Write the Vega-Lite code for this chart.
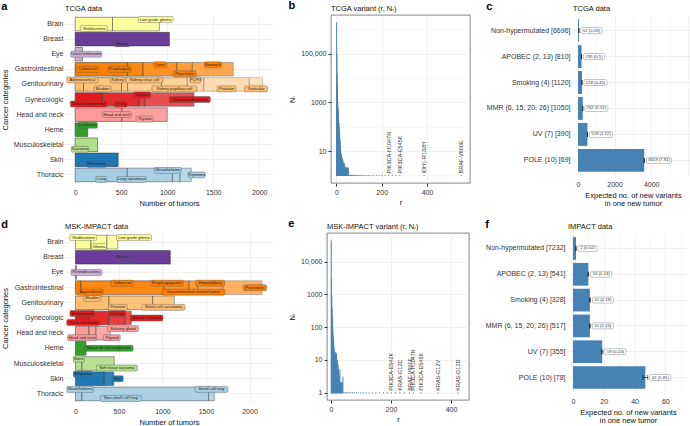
{
"$schema": "https://vega.github.io/schema/vega-lite/v6.json",
"background": "white",
"padding": {"left": 1, "top": 0, "right": 0, "bottom": 0},
"config": {
  "font": "Liberation Sans",
  "view": {"stroke": null},
  "axis": {"labelFont": "Liberation Sans", "titleFont": "Liberation Sans", "labelFontSize": 7, "titleFontSize": 7.5, "titleFontWeight": "normal", "labelColor": "#333333", "titleColor": "#111111", "gridColor": "#ebebeb", "gridWidth": 0.7, "domain": false, "ticks": false, "labelPadding": 3, "titlePadding": 4},
  "title": {"font": "Liberation Sans", "fontSize": 7.5, "fontWeight": "normal", "color": "#111111", "anchor": "start", "frame": "group", "offset": 3}
},
"datasets": {
  "tcgaSeg": [
    {"cat":"Brain","sub":"Glioblastoma","i":0,"n":406},
    {"cat":"Brain","sub":"Low grade glioma","i":1,"n":510},
    {"cat":"Breast","sub":"Breast","i":0,"n":1025},
    {"cat":"Eye","sub":"Uveal melanoma","i":0,"n":80},
    {"cat":"Gastrointestinal","sub":"Colorectal","i":0,"n":570},
    {"cat":"Gastrointestinal","sub":"Esophageal","i":1,"n":168},
    {"cat":"Gastrointestinal","sub":"Liver","i":2,"n":368},
    {"cat":"Gastrointestinal","sub":"Pancreatic","i":3,"n":167},
    {"cat":"Gastrointestinal","sub":"Stomach","i":4,"n":445},
    {"cat":"Genitourinary","sub":"Adrenocortical","i":0,"n":92},
    {"cat":"Genitourinary","sub":"Bladder","i":1,"n":412},
    {"cat":"Genitourinary","sub":"Kidney","i":2,"n":66},
    {"cat":"Genitourinary","sub":"Kidney clear cell","i":3,"n":368},
    {"cat":"Genitourinary","sub":"Kidney papillary cell","i":4,"n":280},
    {"cat":"Genitourinary","sub":"PCPG","i":5,"n":180},
    {"cat":"Genitourinary","sub":"Prostate","i":6,"n":495},
    {"cat":"Genitourinary","sub":"Testicular","i":7,"n":145},
    {"cat":"Gynecologic","sub":"Cervical squamous","i":0,"n":297},
    {"cat":"Gynecologic","sub":"Ovary","i":1,"n":398},
    {"cat":"Gynecologic","sub":"Uterine","i":2,"n":65},
    {"cat":"Gynecologic","sub":"Uterine endometrial","i":3,"n":532},
    {"cat":"Head and neck","sub":"Head and neck","i":0,"n":508},
    {"cat":"Head and neck","sub":"Thyroid","i":1,"n":492},
    {"cat":"Heme","sub":"Leukemia","i":0,"n":137},
    {"cat":"Musculoskeletal","sub":"Sarcoma","i":0,"n":243},
    {"cat":"Skin","sub":"Melanoma","i":0,"n":468},
    {"cat":"Thoracic","sub":"Lung","i":0,"n":567},
    {"cat":"Thoracic","sub":"Lung squamous","i":1,"n":490},
    {"cat":"Thoracic","sub":"Mesothelioma","i":2,"n":82},
    {"cat":"Thoracic","sub":"Thymoma","i":3,"n":123}
  ],
  "mskSeg": [
    {"cat":"Brain","sub":"Glioblastoma","i":0,"n":178},
    {"cat":"Brain","sub":"Glioma","i":1,"n":184},
    {"cat":"Brain","sub":"Low grade glioma","i":2,"n":123},
    {"cat":"Breast","sub":"Breast","i":0,"n":1090},
    {"cat":"Eye","sub":"Retinoblastoma","i":0,"n":12},
    {"cat":"Gastrointestinal","sub":"Appendiceal","i":0,"n":63},
    {"cat":"Gastrointestinal","sub":"Colorectal","i":1,"n":954},
    {"cat":"Gastrointestinal","sub":"Esophagogastric","i":2,"n":288},
    {"cat":"Gastrointestinal","sub":"Gastrointestinal stromal tumor","i":3,"n":100},
    {"cat":"Gastrointestinal","sub":"Hepatobiliary","i":4,"n":287},
    {"cat":"Gastrointestinal","sub":"Pancreatic","i":5,"n":452},
    {"cat":"Genitourinary","sub":"Bladder","i":0,"n":386},
    {"cat":"Genitourinary","sub":"Prostate","i":1,"n":501},
    {"cat":"Genitourinary","sub":"Renal cell carcinoma","i":2,"n":249},
    {"cat":"Gynecologic","sub":"Endometrial","i":0,"n":160},
    {"cat":"Gynecologic","sub":"Germ cell tumor","i":1,"n":220},
    {"cat":"Gynecologic","sub":"Ovarian","i":2,"n":190},
    {"cat":"Gynecologic","sub":"Uterine sarcoma","i":3,"n":72},
    {"cat":"Head and neck","sub":"Head and neck","i":0,"n":155},
    {"cat":"Head and neck","sub":"Salivary gland","i":1,"n":80},
    {"cat":"Head and neck","sub":"Thyroid","i":2,"n":165},
    {"cat":"Heme","sub":"Mature B-cell neoplasms","i":0,"n":121},
    {"cat":"Musculoskeletal","sub":"Bone","i":0,"n":75},
    {"cat":"Musculoskeletal","sub":"Soft tissue sarcoma","i":1,"n":371},
    {"cat":"Skin","sub":"Melanoma","i":0,"n":331},
    {"cat":"Skin","sub":"Skin","i":1,"n":109},
    {"cat":"Thoracic","sub":"Mesothelioma","i":0,"n":75},
    {"cat":"Thoracic","sub":"Non-small cell lung","i":1,"n":1455},
    {"cat":"Thoracic","sub":"Small cell lung","i":2,"n":65}
  ],
  "tcgaHist": [
    {"r":1,"n":1900000},{"r":2,"n":90000},{"r":3,"n":15000},{"r":4,"n":4700},{"r":5,"n":2000},
    {"r":6,"n":1000},{"r":7,"n":620},{"r":8,"n":400},{"r":9,"n":270},{"r":10,"n":190},
    {"r":11,"n":135},{"r":12,"n":95},{"r":13,"n":66},{"r":14,"n":45},{"r":15,"n":32},
    {"r":16,"n":23},{"r":17,"n":16},{"r":18,"n":11},{"r":19,"n":10},{"r":20,"n":8},
    {"r":21,"n":7},{"r":22,"n":6},{"r":23,"n":6},{"r":24,"n":5},{"r":25,"n":5},
    {"r":26,"n":4},{"r":27,"n":4},{"r":28,"n":3},{"r":29,"n":4},{"r":30,"n":3},
    {"r":31,"n":3},{"r":32,"n":2},{"r":33,"n":3},{"r":34,"n":2},{"r":35,"n":2},
    {"r":36,"n":3},{"r":37,"n":2},{"r":38,"n":2},{"r":39,"n":2},{"r":40,"n":2},
    {"r":41,"n":2},{"r":43,"n":2},{"r":44,"n":2},{"r":46,"n":2},{"r":48,"n":2},
    {"r":50,"n":2},{"r":53,"n":2},
    {"r":56,"n":1},{"r":58,"n":1},{"r":61,"n":1},{"r":64,"n":1},{"r":67,"n":1},{"r":70,"n":1},
    {"r":74,"n":1},{"r":78,"n":1},{"r":82,"n":1},{"r":87,"n":1},{"r":92,"n":1},{"r":98,"n":1},
    {"r":104,"n":1},{"r":111,"n":1},{"r":118,"n":1},{"r":126,"n":1},{"r":134,"n":1},{"r":143,"n":1},
    {"r":153,"n":1},{"r":164,"n":1},{"r":176,"n":1},{"r":188,"n":1},{"r":201,"n":1},{"r":215,"n":1},
    {"r":231,"n":1},{"r":247,"n":1},{"r":262,"n":1},{"r":280,"n":1},{"r":387,"n":1},{"r":551,"n":1}
  ],
  "mskHist": [
    {"r":1,"n":43000},{"r":2,"n":2900},{"r":3,"n":900},{"r":4,"n":380},{"r":5,"n":190},
    {"r":6,"n":110},{"r":7,"n":70},{"r":8,"n":50},{"r":9,"n":36},{"r":10,"n":28},
    {"r":11,"n":21},{"r":12,"n":18},{"r":13,"n":16},{"r":14,"n":17},{"r":15,"n":15},
    {"r":16,"n":14},{"r":17,"n":16},{"r":18,"n":11},{"r":19,"n":15},{"r":20,"n":9},
    {"r":21,"n":10},{"r":22,"n":8},{"r":23,"n":6},{"r":24,"n":7},{"r":25,"n":5},
    {"r":26,"n":4},{"r":27,"n":3},{"r":28,"n":3},{"r":29,"n":2},{"r":30,"n":5},
    {"r":31,"n":2},{"r":32,"n":2},{"r":33,"n":2},{"r":34,"n":1},{"r":35,"n":2},
    {"r":36,"n":2},{"r":37,"n":1},{"r":38,"n":2},{"r":40,"n":3},
    {"r":43,"n":1},{"r":47,"n":1},{"r":51,"n":1},{"r":56,"n":1},{"r":61,"n":1},{"r":66,"n":1},
    {"r":72,"n":1},{"r":78,"n":1},{"r":85,"n":1},{"r":92,"n":1},{"r":100,"n":1},{"r":108,"n":1},
    {"r":117,"n":1},{"r":127,"n":1},{"r":138,"n":1},{"r":150,"n":1},{"r":162,"n":1},{"r":175,"n":1},
    {"r":188,"n":1},{"r":200,"n":1},{"r":215,"n":1},{"r":230,"n":1},{"r":245,"n":1},{"r":262,"n":1},
    {"r":275,"n":1},{"r":300,"n":1},{"r":357,"n":1},{"r":423,"n":1}
  ],
  "tcgaVar": [
    {"r":231,"v":"PIK3CA-H1047R"},{"r":280,"v":"PIK3CA-E545K"},{"r":387,"v":"IDH1-R132H"},{"r":551,"v":"BRAF-V600E"}
  ],
  "mskVar": [
    {"r":200,"v":"PIK3CA-E542K"},{"r":230,"v":"KRAS-G12C"},{"r":262,"v":"BRAF-V600E"},{"r":275,"v":"PIK3CA-H1047R"},
    {"r":300,"v":"PIK3CA-E545K"},{"r":357,"v":"KRAS-G12V"},{"r":423,"v":"KRAS-G12D"}
  ],
  "tcgaSig": [
    {"sig":"Non-hypermutated [6696]","val":52,"lo":51.8,"hi":52.2,"lab":"52 (0.09)"},
    {"sig":"APOBEC (2, 13) [810]","val":195,"lo":194,"hi":196,"lab":"195 (0.5)"},
    {"sig":"Smoking (4) [1120]","val":218,"lo":217.1,"hi":218.9,"lab":"218 (0.45)"},
    {"sig":"MMR (6, 15, 20, 26) [1050]","val":262,"lo":261,"hi":263,"lab":"262 (0.52)"},
    {"sig":"UV (7) [390]","val":519,"lo":516.6,"hi":521.4,"lab":"519 (1.22)"},
    {"sig":"POLE (10) [69]","val":3619,"lo":3603.7,"hi":3634.3,"lab":"3619 (7.81)"}
  ],
  "mskSig": [
    {"sig":"Non-hypermutated [7232]","val":2,"lo":1.96,"hi":2.04,"lab":"2 (0.02)"},
    {"sig":"APOBEC (2, 13) [541]","val":10,"lo":9.73,"hi":10.27,"lab":"10 (0.14)"},
    {"sig":"Smoking (4) [328]","val":11,"lo":10.63,"hi":11.37,"lab":"11 (0.19)"},
    {"sig":"MMR (6, 15, 20, 26) [517]","val":11,"lo":10.71,"hi":11.29,"lab":"11 (0.15)"},
    {"sig":"UV (7) [355]","val":19,"lo":18.53,"hi":19.47,"lab":"19 (0.24)"},
    {"sig":"POLE (10) [78]","val":47,"lo":45.41,"hi":48.59,"lab":"47 (0.81)"}
  ]
},
"spacing": 11,
"vconcat": [
{"spacing": 15, "hconcat": [
 {"title": {"text": "a", "fontSize": 11, "fontWeight": "bold", "frame": "bounds", "anchor": "start", "offset": -7, "color": "#000000"},
  "vconcat": [{
   "width": 208, "height": 169,
   "title": {"text": "TCGA data"},
   "data": {"name": "tcgaSeg"},
   "transform": [
     {"stack": "n", "groupby": ["cat"], "sort": [{"field": "i", "order": "ascending"}], "as": ["x0", "x1"]},
     {"calculate": "(datum.x0 + datum.x1) / 2 + ([214, 80, -150, -170, -75, 220, 200, 70, -70, -200, -90, 120][indexof(['Low grade glioma','Uveal melanoma','Colorectal','Esophageal','Kidney','Uterine endometrial','Head and neck','Leukemia','Sarcoma','Lung squamous','Mesothelioma','Thymoma'], datum.sub)] || 0)", "as": "mid"},
     {"calculate": "(length(datum.sub) * 2.0 + 3) / 2 / 0.092", "as": "hw"},
     {"calculate": "min(max(datum.mid, -110 + datum.hw + 20), 2150 - datum.hw)", "as": "cx"},
     {"calculate": "datum.cx - datum.hw", "as": "bx1"},
     {"calculate": "datum.cx + datum.hw", "as": "bx2"},
     {"calculate": "indexof(['Low grade glioma','Liver','Stomach','Adrenocortical','Kidney','Kidney clear cell','PCPG','Uterine','Mesothelioma','Leukemia'], datum.sub) >= 0 ? 'a' : (indexof(['Glioblastoma','Breast','Pancreatic','Bladder','Kidney papillary cell','Prostate','Testicular','Cervical squamous','Ovary','Thyroid','Sarcoma','Melanoma','Lung','Lung squamous'], datum.sub) >= 0 ? 'b' : 'm')", "as": "lane"}
   ],
   "encoding": {"y": {"field": "cat", "type": "nominal", "sort": ["Brain","Breast","Eye","Gastrointestinal","Genitourinary","Gynecologic","Head and neck","Heme","Musculoskeletal","Skin","Thoracic"], "scale": {"paddingInner": 0.1, "paddingOuter": 0.15}, "axis": {"title": "Cancer categories", "bandPosition": 0.5, "grid": true, "labelPadding": 2}}},
   "layer": [
     {"mark": {"type": "bar", "stroke": "#333333", "strokeWidth": 0.5},
      "encoding": {
        "x": {"field": "x0", "type": "quantitative", "scale": {"domain": [-110, 2150], "nice": false, "zero": false},
              "axis": {"title": "Number of tumors", "format": "d", "values": [0,250,500,750,1000,1250,1500,1750,2000], "labelExpr": "datum.value % 500 == 0 ? datum.label : ''", "gridWidth": {"condition": {"test": "datum.value % 500 != 0", "value": 0.35}, "value": 0.7}, "labelPadding": 4}},
        "x2": {"field": "x1"},
        "color": {"field": "cat", "type": "nominal", "legend": null, "scale": {"domain": ["Brain","Breast","Eye","Gastrointestinal","Genitourinary","Gynecologic","Head and neck","Heme","Musculoskeletal","Skin","Thoracic"], "range": ["#FFFF99","#6A3D9A","#CAB2D6","#FF7F00","#FDBF6F","#E31A1C","#FB9A99","#33A02C","#B2DF8A","#1F78B4","#A6CEE3"]}},
        "opacity": {"field": "i", "type": "quantitative", "legend": null, "scale": {"domain": [0, 7], "range": [1, 0.45]}}
      }},
     {"transform": [{"filter": "datum.lane == 'a'"}], "mark": {"type": "bar", "size": 6, "yOffset": -4.5, "stroke": "#555555", "strokeWidth": 0.4, "cornerRadius": 1.2},
      "encoding": {"x": {"field": "bx1", "type": "quantitative"}, "x2": {"field": "bx2"}, "color": {"field": "cat", "type": "nominal", "legend": null}}},
     {"transform": [{"filter": "datum.lane == 'a'"}], "mark": {"type": "text", "fontSize": 4, "yOffset": -4.5, "color": "#222222"},
      "encoding": {"x": {"field": "cx", "type": "quantitative"}, "text": {"field": "sub"}}},
     {"transform": [{"filter": "datum.lane == 'b'"}], "mark": {"type": "bar", "size": 6, "yOffset": 4.5, "stroke": "#555555", "strokeWidth": 0.4, "cornerRadius": 1.2},
      "encoding": {"x": {"field": "bx1", "type": "quantitative"}, "x2": {"field": "bx2"}, "color": {"field": "cat", "type": "nominal", "legend": null}}},
     {"transform": [{"filter": "datum.lane == 'b'"}], "mark": {"type": "text", "fontSize": 4, "yOffset": 4.5, "color": "#222222"},
      "encoding": {"x": {"field": "cx", "type": "quantitative"}, "text": {"field": "sub"}}},
     {"transform": [{"filter": "datum.lane == 'm'"}], "mark": {"type": "bar", "size": 6, "stroke": "#555555", "strokeWidth": 0.4, "cornerRadius": 1.2},
      "encoding": {"x": {"field": "bx1", "type": "quantitative"}, "x2": {"field": "bx2"}, "color": {"field": "cat", "type": "nominal", "legend": null}}},
     {"transform": [{"filter": "datum.lane == 'm'"}], "mark": {"type": "text", "fontSize": 4, "color": "#222222"},
      "encoding": {"x": {"field": "cx", "type": "quantitative"}, "text": {"field": "sub"}}}
   ]
  }]},
 {"title": {"text": "b", "fontSize": 11, "fontWeight": "bold", "frame": "bounds", "anchor": "start", "offset": -7, "color": "#000000"},
  "vconcat": [{
   "width": 139, "height": 168,
   "title": {"text": "TCGA variant (r, Nᵣ)"},
   "view": {"stroke": "#333333", "strokeWidth": 0.6},
   "layer": [
     {"data": {"name": "tcgaHist"},
      "mark": {"type": "rule", "color": "#4682b4", "strokeWidth": 1, "strokeCap": "square"},
      "encoding": {
        "x": {"field": "r", "type": "quantitative", "scale": {"domain": [-24, 590], "nice": false, "zero": false},
              "axis": {"title": "r", "values": [0,100,200,300,400,500], "labelExpr": "datum.value % 200 == 0 ? datum.label : ''", "ticks": true, "tickSize": 3, "tickColor": "#333333", "tickOpacity": {"condition": {"test": "datum.value % 200 != 0", "value": 0}, "value": 1}, "gridWidth": {"condition": {"test": "datum.value % 200 != 0", "value": 0.35}, "value": 0.7}, "labelPadding": 2, "titlePadding": 3}},
        "y": {"field": "n", "type": "quantitative", "scale": {"type": "log", "domain": [0.49, 3900000], "nice": false},
              "axis": {"title": "Nᵣ", "values": [1,10,100,1000,10000,100000,1000000], "labelExpr": "datum.value == 10 ? '10' : (datum.value == 1000 ? '1000' : (datum.value == 100000 ? '100,000' : ''))", "ticks": true, "tickSize": 3, "tickColor": "#333333", "tickOpacity": {"condition": {"test": "indexof([10, 1000, 100000], datum.value) < 0", "value": 0}, "value": 1}, "gridWidth": {"condition": {"test": "indexof([10, 1000, 100000], datum.value) < 0", "value": 0.35}, "value": 0.7}, "labelPadding": 2}},
        "y2": {"datum": 1}
      }},
     {"data": {"name": "tcgaVar"},
      "mark": {"type": "text", "angle": 270, "align": "left", "baseline": "middle", "dx": 2, "fontSize": 5.5, "color": "#333333"},
      "encoding": {"x": {"field": "r", "type": "quantitative"}, "y": {"datum": 1}, "text": {"field": "v"}}}
   ]
  }]},
 {"title": {"text": "c", "fontSize": 11, "fontWeight": "bold", "frame": "bounds", "anchor": "start", "offset": -7, "color": "#000000"},
  "vconcat": [{
   "width": 120, "height": 161,
   "title": {"text": "TCGA data"},
   "data": {"name": "tcgaSig"},
   "transform": [
     {"calculate": "datum.hi + 2 / 0.0183", "as": "bx1"},
     {"calculate": "datum.bx1 + (length(datum.lab) * 2.0 + 3) / 0.0183", "as": "bx2"},
     {"calculate": "(datum.bx1 + datum.bx2) / 2", "as": "bc"}
   ],
   "encoding": {"y": {"field": "sig", "type": "nominal", "sort": null, "scale": {"paddingInner": 0.12, "paddingOuter": 0.16}, "axis": {"title": null, "bandPosition": 0.5, "grid": true, "labelPadding": 3}}},
   "resolve": {"axis": {"x": "independent"}},
   "layer": [
     {"mark": {"type": "bar", "color": "#4682b4"},
      "encoding": {"x": {"field": "val", "type": "quantitative", "scale": {"domain": [-273, 6284], "nice": false, "zero": false},
        "axis": {"title": ["Expected no. of new variants", "in one new tumor"], "format": "d", "values": [0, 1000, 2000, 3000, 4000, 5000, 6000], "labelExpr": "datum.value % 2000 == 0 && datum.value < 6000 ? datum.label : ''", "gridWidth": {"condition": {"test": "datum.value % 2000 != 0", "value": 0.35}, "value": 0.7}, "labelOverlap": false, "labelFlush": false, "labelPadding": 4, "titleLineHeight": 8}}}},
     {"mark": {"type": "rule", "color": "#000000", "strokeWidth": 0.6},
      "encoding": {"x": {"field": "lo", "type": "quantitative", "axis": null}, "x2": {"field": "hi"}}},
     {"mark": {"type": "tick", "color": "#000000", "size": 5, "thickness": 0.8},
      "encoding": {"x": {"field": "lo", "type": "quantitative", "axis": null}}},
     {"mark": {"type": "tick", "color": "#000000", "size": 5, "thickness": 0.8},
      "encoding": {"x": {"field": "hi", "type": "quantitative", "axis": null}}},
     {"mark": {"type": "bar", "size": 6, "fill": "#ffffff", "stroke": "#888888", "strokeWidth": 0.5, "cornerRadius": 1.2},
      "encoding": {"x": {"field": "bx1", "type": "quantitative", "axis": null}, "x2": {"field": "bx2"}}},
     {"mark": {"type": "text", "fontSize": 4.3, "color": "#333333"},
      "encoding": {"x": {"field": "bc", "type": "quantitative", "axis": null}, "text": {"field": "lab"}}}
   ]
  }]}
]},
{"spacing": 15, "hconcat": [
 {"title": {"text": "d", "fontSize": 11, "fontWeight": "bold", "frame": "bounds", "anchor": "start", "offset": -7, "color": "#000000"},
  "vconcat": [{
   "width": 208, "height": 170,
   "title": {"text": "MSK-IMPACT data"},
   "data": {"name": "mskSeg"},
   "transform": [
     {"stack": "n", "groupby": ["cat"], "sort": [{"field": "i", "order": "ascending"}], "as": ["x0", "x1"]},
     {"calculate": "(datum.x0 + datum.x1) / 2 + ([250, 120, 145, -110, 145, -150, -200, 210, 350, 100, 320, 215, -80, 100, -280][indexof(['Low grade glioma','Retinoblastoma','Appendiceal','Esophagogastric','Pancreatic','Prostate','Germ cell tumor','Uterine sarcoma','Salivary gland','Thyroid','Mature B-cell neoplasms','Soft tissue sarcoma','Melanoma','Skin','Non-small cell lung'], datum.sub)] || 0)", "as": "mid"},
     {"calculate": "(length(datum.sub) * 2.0 + 3) / 2 / 0.087", "as": "hw"},
     {"calculate": "min(max(datum.mid, -120 + datum.hw + 20), 2270 - datum.hw)", "as": "cx"},
     {"calculate": "datum.cx - datum.hw", "as": "bx1"},
     {"calculate": "datum.cx + datum.hw", "as": "bx2"},
     {"calculate": "indexof(['Glioblastoma','Low grade glioma','Colorectal','Esophagogastric','Hepatobiliary','Bladder','Endometrial','Ovarian','Salivary gland','Bone','Melanoma','Mesothelioma','Small cell lung'], datum.sub) >= 0 ? 'a' : (indexof(['Glioma','Appendiceal','Gastrointestinal stromal tumor','Prostate','Renal cell carcinoma','Germ cell tumor','Head and neck','Thyroid','Soft tissue sarcoma','Non-small cell lung'], datum.sub) >= 0 ? 'b' : 'm')", "as": "lane"}
   ],
   "encoding": {"y": {"field": "cat", "type": "nominal", "sort": ["Brain","Breast","Eye","Gastrointestinal","Genitourinary","Gynecologic","Head and neck","Heme","Musculoskeletal","Skin","Thoracic"], "scale": {"paddingInner": 0.1, "paddingOuter": 0.15}, "axis": {"title": "Cancer categories", "bandPosition": 0.5, "grid": true, "labelPadding": 2}}},
   "layer": [
     {"mark": {"type": "bar", "stroke": "#333333", "strokeWidth": 0.5},
      "encoding": {
        "x": {"field": "x0", "type": "quantitative", "scale": {"domain": [-120, 2270], "nice": false, "zero": false},
              "axis": {"title": "Number of tumors", "format": "d", "values": [0,250,500,750,1000,1250,1500,1750,2000,2250], "labelExpr": "datum.value % 500 == 0 ? datum.label : ''", "gridWidth": {"condition": {"test": "datum.value % 500 != 0", "value": 0.35}, "value": 0.7}, "labelPadding": 4}},
        "x2": {"field": "x1"},
        "color": {"field": "cat", "type": "nominal", "legend": null, "scale": {"domain": ["Brain","Breast","Eye","Gastrointestinal","Genitourinary","Gynecologic","Head and neck","Heme","Musculoskeletal","Skin","Thoracic"], "range": ["#FFFF99","#6A3D9A","#CAB2D6","#FF7F00","#FDBF6F","#E31A1C","#FB9A99","#33A02C","#B2DF8A","#1F78B4","#A6CEE3"]}},
        "opacity": {"field": "i", "type": "quantitative", "legend": null, "scale": {"domain": [0, 7], "range": [1, 0.45]}}
      }},
     {"transform": [{"filter": "datum.lane == 'a'"}], "mark": {"type": "bar", "size": 6, "yOffset": -4.5, "stroke": "#555555", "strokeWidth": 0.4, "cornerRadius": 1.2},
      "encoding": {"x": {"field": "bx1", "type": "quantitative"}, "x2": {"field": "bx2"}, "color": {"field": "cat", "type": "nominal", "legend": null}}},
     {"transform": [{"filter": "datum.lane == 'a'"}], "mark": {"type": "text", "fontSize": 4, "yOffset": -4.5, "color": "#222222"},
      "encoding": {"x": {"field": "cx", "type": "quantitative"}, "text": {"field": "sub"}}},
     {"transform": [{"filter": "datum.lane == 'b'"}], "mark": {"type": "bar", "size": 6, "yOffset": 4.5, "stroke": "#555555", "strokeWidth": 0.4, "cornerRadius": 1.2},
      "encoding": {"x": {"field": "bx1", "type": "quantitative"}, "x2": {"field": "bx2"}, "color": {"field": "cat", "type": "nominal", "legend": null}}},
     {"transform": [{"filter": "datum.lane == 'b'"}], "mark": {"type": "text", "fontSize": 4, "yOffset": 4.5, "color": "#222222"},
      "encoding": {"x": {"field": "cx", "type": "quantitative"}, "text": {"field": "sub"}}},
     {"transform": [{"filter": "datum.lane == 'm'"}], "mark": {"type": "bar", "size": 6, "stroke": "#555555", "strokeWidth": 0.4, "cornerRadius": 1.2},
      "encoding": {"x": {"field": "bx1", "type": "quantitative"}, "x2": {"field": "bx2"}, "color": {"field": "cat", "type": "nominal", "legend": null}}},
     {"transform": [{"filter": "datum.lane == 'm'"}], "mark": {"type": "text", "fontSize": 4, "color": "#222222"},
      "encoding": {"x": {"field": "cx", "type": "quantitative"}, "text": {"field": "sub"}}}
   ]
  }]},
 {"title": {"text": "e", "fontSize": 11, "fontWeight": "bold", "frame": "bounds", "anchor": "start", "offset": -7, "color": "#000000"},
  "vconcat": [{
   "width": 142, "height": 167,
   "title": {"text": "MSK-IMPACT variant (r, Nᵣ)"},
   "view": {"stroke": "#333333", "strokeWidth": 0.6},
   "layer": [
     {"data": {"name": "mskHist"},
      "mark": {"type": "rule", "color": "#4682b4", "strokeWidth": 1, "strokeCap": "square"},
      "encoding": {
        "x": {"field": "r", "type": "quantitative", "scale": {"domain": [-13, 460], "nice": false, "zero": false},
              "axis": {"title": "r", "values": [0,50,100,150,200,250,300,350,400,450], "labelExpr": "datum.value % 100 == 0 ? datum.label : ''", "ticks": true, "tickSize": 3, "tickColor": "#333333", "tickOpacity": {"condition": {"test": "datum.value % 100 != 0", "value": 0}, "value": 1}, "gridWidth": {"condition": {"test": "datum.value % 100 != 0", "value": 0.35}, "value": 0.7}, "labelPadding": 2, "titlePadding": 3}},
        "y": {"field": "n", "type": "quantitative", "scale": {"type": "log", "domain": [0.6, 75000], "nice": false},
              "axis": {"title": "Nᵣ", "values": [1,10,100,1000,10000], "labelExpr": "datum.value == 10000 ? '10,000' : '' + datum.value", "ticks": true, "tickSize": 3, "tickColor": "#333333", "labelPadding": 2}},
        "y2": {"datum": 1}
      }},
     {"data": {"name": "mskVar"},
      "mark": {"type": "text", "angle": 270, "align": "left", "baseline": "middle", "dx": 2, "fontSize": 5.5, "color": "#333333"},
      "encoding": {"x": {"field": "r", "type": "quantitative"}, "y": {"datum": 1}, "text": {"field": "v"}}}
   ]
  }]},
 {"title": {"text": "f", "fontSize": 11, "fontWeight": "bold", "frame": "bounds", "anchor": "start", "offset": -7, "color": "#000000"},
  "vconcat": [{
   "width": 120, "height": 160,
   "title": {"text": "IMPACT data"},
   "data": {"name": "mskSig"},
   "transform": [
     {"calculate": "datum.hi + 2 / 1.54", "as": "bx1"},
     {"calculate": "datum.bx1 + (length(datum.lab) * 2.0 + 3) / 1.54", "as": "bx2"},
     {"calculate": "(datum.bx1 + datum.bx2) / 2", "as": "bc"}
   ],
   "encoding": {"y": {"field": "sig", "type": "nominal", "sort": null, "scale": {"paddingInner": 0.12, "paddingOuter": 0.16}, "axis": {"title": null, "bandPosition": 0.5, "grid": true, "labelPadding": 3}}},
   "resolve": {"axis": {"x": "independent"}},
   "layer": [
     {"mark": {"type": "bar", "color": "#4682b4"},
      "encoding": {"x": {"field": "val", "type": "quantitative", "scale": {"domain": [-3.2, 74.7], "nice": false, "zero": false},
        "axis": {"title": ["Expected no. of new variants", "in one new tumor"], "format": "d", "values": [0, 10, 20, 30, 40, 50, 60, 70], "labelExpr": "datum.value % 20 == 0 ? datum.label : ''", "gridWidth": {"condition": {"test": "datum.value % 20 != 0", "value": 0.35}, "value": 0.7}, "labelOverlap": false, "labelFlush": false, "labelPadding": 4, "titleLineHeight": 8}}}},
     {"mark": {"type": "rule", "color": "#000000", "strokeWidth": 0.6},
      "encoding": {"x": {"field": "lo", "type": "quantitative", "axis": null}, "x2": {"field": "hi"}}},
     {"mark": {"type": "tick", "color": "#000000", "size": 5, "thickness": 0.8},
      "encoding": {"x": {"field": "lo", "type": "quantitative", "axis": null}}},
     {"mark": {"type": "tick", "color": "#000000", "size": 5, "thickness": 0.8},
      "encoding": {"x": {"field": "hi", "type": "quantitative", "axis": null}}},
     {"mark": {"type": "bar", "size": 6, "fill": "#ffffff", "stroke": "#888888", "strokeWidth": 0.5, "cornerRadius": 1.2},
      "encoding": {"x": {"field": "bx1", "type": "quantitative", "axis": null}, "x2": {"field": "bx2"}}},
     {"mark": {"type": "text", "fontSize": 4.3, "color": "#333333"},
      "encoding": {"x": {"field": "bc", "type": "quantitative", "axis": null}, "text": {"field": "lab"}}}
   ]
  }]}
]}
]
}
